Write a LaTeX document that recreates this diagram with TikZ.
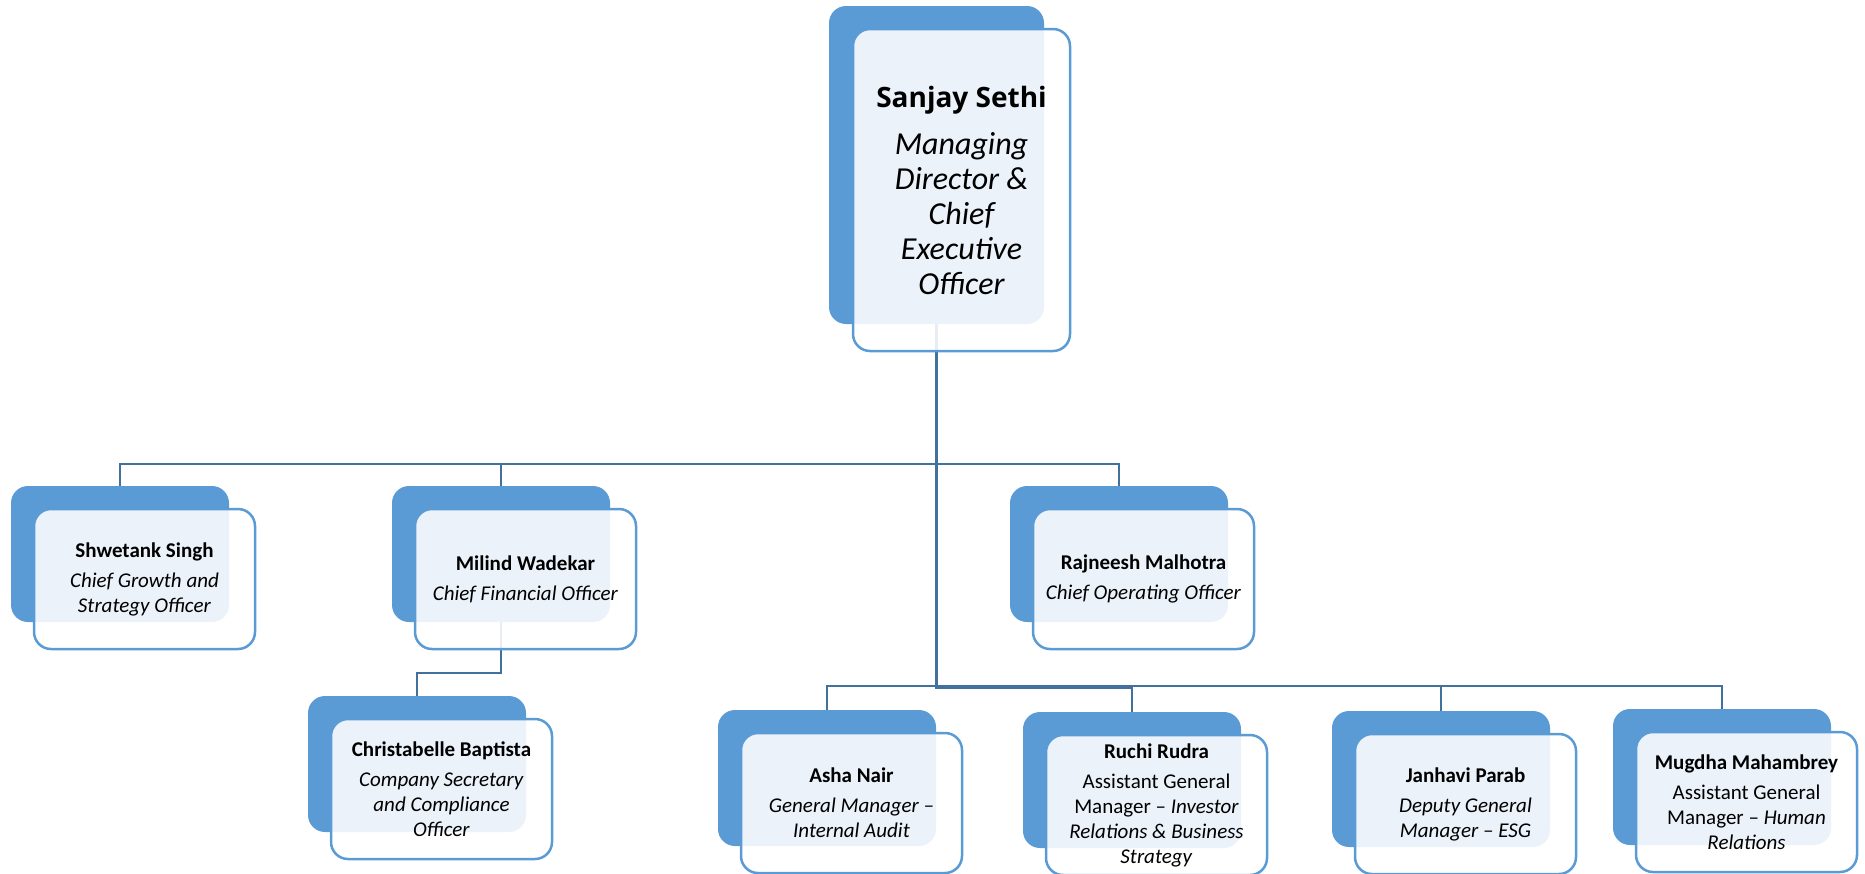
\documentclass[tikz,border=0pt]{standalone}
\usepackage{fontspec}
\setmainfont{Carlito}
\newfontfamily\headfont{Open Sans}
\definecolor{accent}{HTML}{5B9BD5}
\definecolor{linkc}{HTML}{41719C}
\tikzset{
  backbox/.style={fill=accent, draw=none, rounded corners=17pt, inner sep=0pt, outer sep=0pt},
  smallback/.style={backbox, minimum width=218pt, minimum height=136pt},
  frontbox/.style={fill=white, fill opacity=0.88, text opacity=1, draw=accent, line width=2.5pt,
    rounded corners=17pt, align=center, inner sep=0pt},
  smallfront/.style={frontbox, minimum width=221pt, minimum height=140pt,
    font=\fontsize{21}{25}\selectfont},
  link/.style={draw=linkc, line width=2.5pt}
}
\begin{document}
\begin{tikzpicture}[x=1pt,y=-1pt]
\useasboundingbox (0,0) rectangle (1865,873);

% coloured back tiles
\node[backbox, minimum width=215pt, minimum height=318pt] (ceo) at (936.5,165) {};
\node[smallback] (shw) at (120,554) {};
\node[smallback] (mil) at (501,554) {};
\node[smallback] (raj) at (1119,554) {};
\node[smallback] (chr) at (417,764) {};
\node[smallback] (ash) at (827,778) {};
\node[smallback] (ruc) at (1132,780) {};
\node[smallback] (jan) at (1441,779) {};
\node[smallback] (mug) at (1722,777) {};

% reporting lines
\coordinate (topbus) at (0,464);
\coordinate (lowbus) at (0,686);
\coordinate (lowbusb) at (0,688);
\coordinate (cfobus) at (0,673);
\draw[link] (ceo.south) -- (ceo.south |- topbus) -| (shw.north);
\draw[link] (ceo.south) -- (ceo.south |- topbus) -| (mil.north);
\draw[link] (ceo.south) -- (ceo.south |- topbus) -| (raj.north);
\draw[link] (ceo.south) -- (ceo.south |- lowbus) -| (ash.north);
\draw[link] (ceo.south) -- (ceo.south |- lowbusb) -| (ruc.north);
\draw[link] (ceo.south) -- (ceo.south |- lowbus) -| (jan.north);
\draw[link] (ceo.south) -- (ceo.south |- lowbus) -| (mug.north);
\draw[link] (mil.south) -- (mil.south |- cfobus) -| (chr.north);

% front cards with names and titles
\node[frontbox, minimum width=217pt, minimum height=322pt,
      font=\itshape\fontsize{32}{35}\selectfont] (ceoF) at (961.5,190)
  {\headfont\bfseries\upshape\fontsize{28}{32}\selectfont Sanjay Sethi\\[12pt]
   \itshape Managing\\ Director \&\\ Chief\\ Executive\\ Officer};
\node[smallfront] (shwF) at (144.5,579)
  {\textbf{Shwetank Singh}\\[5pt]\textit{Chief Growth and}\\\textit{Strategy Officer}};
\node[smallfront] (milF) at (525.5,579)
  {\textbf{Milind Wadekar}\\[5pt]\textit{Chief Financial Officer}};
\node[smallfront] (rajF) at (1143.5,579)
  {\textbf{Rajneesh Malhotra}\\[5pt]\textit{Chief Operating Officer}};
\node[smallfront] (chrF) at (441.5,789)
  {\textbf{Christabelle Baptista}\\[5pt]\textit{Company Secretary}\\\textit{and Compliance}\\\textit{Officer}};
\node[smallfront] (ashF) at (851.5,803)
  {\textbf{Asha Nair}\\[5pt]\textit{General Manager –}\\\textit{Internal Audit}};
\node[smallfront] (rucF) at (1156.5,805)
  {\textbf{Ruchi Rudra}\\[5pt]Assistant General\\Manager – \textit{Investor}\\\textit{Relations \& Business}\\\textit{Strategy}};
\node[smallfront] (janF) at (1465.5,804)
  {\textbf{Janhavi Parab}\\[5pt]\textit{Deputy General}\\\textit{Manager – ESG}};
\node[smallfront] (mugF) at (1746.5,802)
  {\textbf{Mugdha Mahambrey}\\[5pt]Assistant General\\Manager – \textit{Human}\\\textit{Relations}};
\end{tikzpicture}
\end{document}
